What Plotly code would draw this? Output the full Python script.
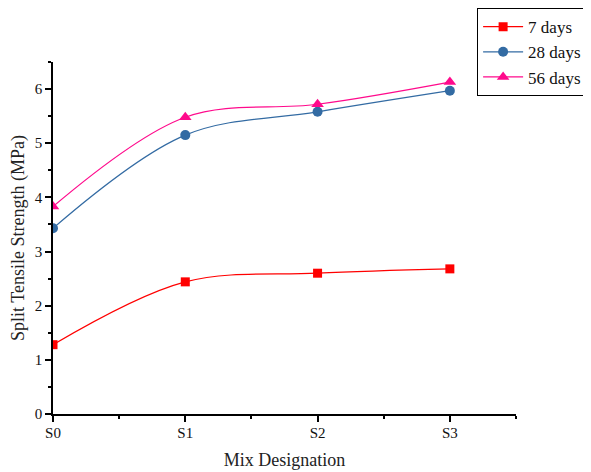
import plotly.graph_objects as go

categories = ["S0", "S1", "S2", "S3"]
x_pos = [0, 1, 2, 3]
days7 = [1.28, 2.44, 2.60, 2.68]
days28 = [3.43, 5.15, 5.58, 5.97]
days56 = [3.83, 5.48, 5.72, 6.13]

series = [
    ("7 days", days7, "#FF0000", "square", 9),
    ("28 days", days28, "#336BA3", "circle", 10),
    ("56 days", days56, "#FF0A8C", "triangle-up", 11),
]

fig = go.Figure()
for name, vals, col, sym, sz in series:
    fig.add_trace(go.Scatter(
        x=x_pos, y=vals, name=name, mode="lines+markers",
        line=dict(color=col, width=1.2, shape="spline", smoothing=1.0),
        marker=dict(color=col, symbol=sym, size=sz),
    ))

font_family = "Liberation Serif, Times New Roman, serif"
fig.update_layout(
    width=591, height=472,
    margin=dict(l=45, r=83, t=54, b=66, autoexpand=False),
    paper_bgcolor="white", plot_bgcolor="white",
    font=dict(family=font_family, color="#222222"),
    showlegend=True,
    legend=dict(
        x=0.916, y=1.153, xanchor="left", yanchor="top",
        bgcolor="white", bordercolor="black", borderwidth=1,
        font=dict(family=font_family, size=17, color="#111111"),
        tracegroupgap=0, itemwidth=40,
    ),
    xaxis=dict(
        range=[0, 3.5], tickmode="array", tickvals=x_pos, ticktext=categories,
        automargin=False,
        showgrid=False, zeroline=False, showline=True, linecolor="black", linewidth=1.5,
        ticks="outside", ticklen=6, tickwidth=1.5, tickcolor="black",
        tickfont=dict(size=15, family=font_family, color="#111111"),
        ticklabelstandoff=-2,
        minor=dict(tickmode="linear", tick0=0, dtick=0.5, ticks="outside", ticklen=3,
                   tickwidth=1.5, tickcolor="black"),
        title=dict(text="Mix Designation", font=dict(size=18, family=font_family), standoff=14),
    ),
    yaxis=dict(
        range=[0, 6.5], tick0=0, dtick=1,
        automargin=False,
        showgrid=False, zeroline=False, showline=True, linecolor="black", linewidth=1.5,
        ticks="outside", ticklen=6, tickwidth=1.5, tickcolor="black",
        tickfont=dict(size=15, family=font_family, color="#111111"),
        minor=dict(tickmode="linear", tick0=0, dtick=0.5, ticks="outside", ticklen=3,
                   tickwidth=1.5, tickcolor="black"),
        title=dict(text="Split Tensile Strength (MPa)", font=dict(size=18, family=font_family), standoff=10),
    ),
)

fig.write_html("out.html")
